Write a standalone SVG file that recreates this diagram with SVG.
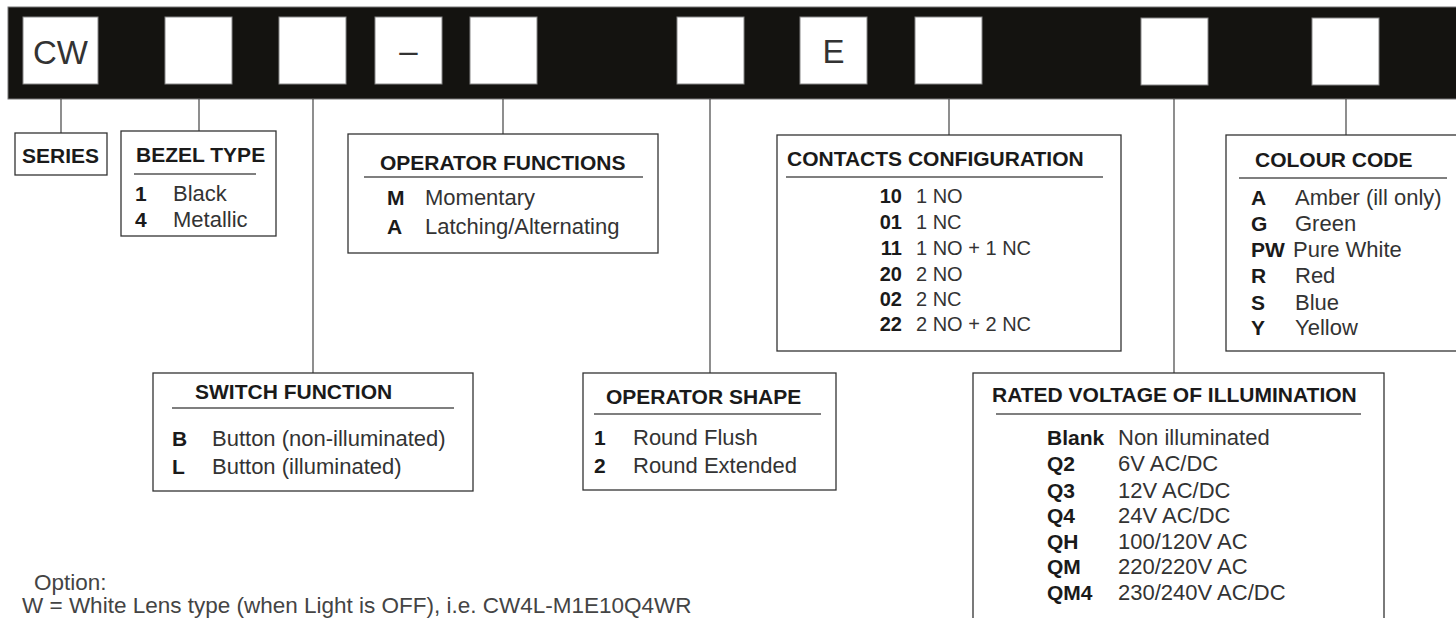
<svg xmlns="http://www.w3.org/2000/svg" width="1456" height="618" viewBox="0 0 1456 618">
<style>
.box{fill:#fff;stroke:#333;stroke-width:1.3}
.slot{fill:#fff;stroke:#888;stroke-width:1}
.conn{stroke:#444;stroke-width:1.2;fill:none}
.rule{stroke:#555;stroke-width:1.3}
.t{font-family:"Liberation Sans",Arial,sans-serif;font-weight:bold;font-size:21px;fill:#1a1a1a}
.c{font-family:"Liberation Sans",Arial,sans-serif;font-weight:bold;font-size:21px;fill:#1a1a1a}
.d{font-family:"Liberation Sans",Arial,sans-serif;font-size:22px;fill:#333}
.cs{font-family:"Liberation Sans",Arial,sans-serif;font-weight:bold;font-size:20px;fill:#1a1a1a}
.ds{font-family:"Liberation Sans",Arial,sans-serif;font-size:20px;fill:#333}
.big{font-family:"Liberation Sans",Arial,sans-serif;font-size:33px;fill:#333}
.note{font-family:"Liberation Sans",Arial,sans-serif;font-size:22.5px;fill:#444}
</style>
<rect x="0" y="0" width="1456" height="618" fill="#fff"/>
<g id="code-bar">
<rect x="8" y="7" width="1450" height="92" fill="#141310" stroke="#777" stroke-width="1"/>
<rect class="slot" x="23" y="17" width="75" height="67"/>
<rect class="slot" x="165" y="17" width="67" height="67"/>
<rect class="slot" x="279" y="17" width="67" height="67"/>
<rect class="slot" x="375" y="17" width="67" height="67"/>
<rect class="slot" x="470" y="17" width="67" height="67"/>
<rect class="slot" x="677" y="17" width="67" height="67"/>
<rect class="slot" x="800" y="17" width="67" height="67"/>
<rect class="slot" x="915" y="17" width="67" height="67"/>
<rect class="slot" x="1141" y="18" width="67" height="67"/>
<rect class="slot" x="1312" y="18" width="67" height="67"/>
<text class="big" x="60.5" y="64" text-anchor="middle">CW</text>
<text class="big" x="408.5" y="62" text-anchor="middle">–</text>
<text class="big" x="833.5" y="63" text-anchor="middle">E</text>
</g>
<g id="connectors">
<line class="conn" x1="61" y1="99" x2="61" y2="133"/>
<line class="conn" x1="199" y1="99" x2="199" y2="131"/>
<line class="conn" x1="313" y1="99" x2="313" y2="373"/>
<line class="conn" x1="503" y1="99" x2="503" y2="134"/>
<line class="conn" x1="710" y1="99" x2="710" y2="373"/>
<line class="conn" x1="949" y1="99" x2="949" y2="135"/>
<line class="conn" x1="1174" y1="99" x2="1174" y2="373"/>
<line class="conn" x1="1346" y1="99" x2="1346" y2="135"/>
</g>
<g id="series">
<rect class="box" x="15" y="133" width="92" height="42"/>
<text class="t" x="22" y="163">SERIES</text>
</g>
<g id="bezel-type">
<rect class="box" x="121" y="131" width="155" height="105"/>
<text class="t" x="136" y="162">BEZEL TYPE</text>
<line class="rule" x1="134" y1="174" x2="256" y2="174"/>
<text class="c" x="135" y="201">1</text><text class="d" x="173" y="201">Black</text>
<text class="c" x="135" y="227">4</text><text class="d" x="173" y="227">Metallic</text>
</g>
<g id="operator-functions">
<rect class="box" x="348" y="134" width="310" height="119"/>
<text class="t" x="380" y="170">OPERATOR FUNCTIONS</text>
<line class="rule" x1="364" y1="177" x2="643" y2="177"/>
<text class="c" x="387" y="205">M</text><text class="d" x="425" y="205">Momentary</text>
<text class="c" x="387" y="234">A</text><text class="d" x="425" y="234">Latching/Alternating</text>
</g>
<g id="contacts-configuration">
<rect class="box" x="777" y="135" width="344" height="216"/>
<text class="t" x="787" y="166">CONTACTS CONFIGURATION</text>
<line class="rule" x1="786" y1="177" x2="1103" y2="177"/>
<text class="cs" x="902" y="203" text-anchor="end">10</text><text class="ds" x="916" y="203">1 NO</text>
<text class="cs" x="902" y="229" text-anchor="end">01</text><text class="ds" x="916" y="229">1 NC</text>
<text class="cs" x="902" y="255" text-anchor="end">11</text><text class="ds" x="916" y="255">1 NO + 1 NC</text>
<text class="cs" x="902" y="281" text-anchor="end">20</text><text class="ds" x="916" y="281">2 NO</text>
<text class="cs" x="902" y="306" text-anchor="end">02</text><text class="ds" x="916" y="306">2 NC</text>
<text class="cs" x="902" y="331" text-anchor="end">22</text><text class="ds" x="916" y="331">2 NO + 2 NC</text>
</g>
<g id="colour-code">
<rect class="box" x="1226" y="135" width="244" height="216"/>
<text class="t" x="1255" y="167">COLOUR CODE</text>
<line class="rule" x1="1239" y1="178" x2="1447" y2="178"/>
<text class="c" x="1251" y="205">A</text><text class="d" x="1295" y="205">Amber (ill only)</text>
<text class="c" x="1251" y="231">G</text><text class="d" x="1295" y="231">Green</text>
<text class="c" x="1251" y="257">PW</text><text class="d" x="1293" y="257">Pure White</text>
<text class="c" x="1251" y="283">R</text><text class="d" x="1295" y="283">Red</text>
<text class="c" x="1251" y="310">S</text><text class="d" x="1295" y="310">Blue</text>
<text class="c" x="1251" y="335">Y</text><text class="d" x="1295" y="335">Yellow</text>
</g>
<g id="switch-function">
<rect class="box" x="153" y="373" width="320" height="118"/>
<text class="t" x="195" y="399">SWITCH FUNCTION</text>
<line class="rule" x1="172" y1="408" x2="454" y2="408"/>
<text class="c" x="172" y="446">B</text><text class="d" x="212" y="446">Button (non-illuminated)</text>
<text class="c" x="172" y="474">L</text><text class="d" x="212" y="474">Button (illuminated)</text>
</g>
<g id="operator-shape">
<rect class="box" x="583" y="373" width="253" height="117"/>
<text class="t" x="606" y="404">OPERATOR SHAPE</text>
<line class="rule" x1="594" y1="414" x2="821" y2="414"/>
<text class="c" x="594" y="445">1</text><text class="d" x="633" y="445">Round Flush</text>
<text class="c" x="594" y="473">2</text><text class="d" x="633" y="473">Round Extended</text>
</g>
<g id="rated-voltage">
<rect class="box" x="973" y="373" width="411" height="260"/>
<text class="t" x="992" y="402">RATED VOLTAGE OF ILLUMINATION</text>
<line class="rule" x1="996" y1="414" x2="1361" y2="414"/>
<text class="c" x="1047" y="445">Blank</text><text class="d" x="1118" y="445">Non illuminated</text>
<text class="c" x="1047" y="471">Q2</text><text class="d" x="1118" y="471">6V AC/DC</text>
<text class="c" x="1047" y="498">Q3</text><text class="d" x="1118" y="498">12V AC/DC</text>
<text class="c" x="1047" y="523">Q4</text><text class="d" x="1118" y="523">24V AC/DC</text>
<text class="c" x="1047" y="549">QH</text><text class="d" x="1118" y="549">100/120V AC</text>
<text class="c" x="1047" y="574">QM</text><text class="d" x="1118" y="574">220/220V AC</text>
<text class="c" x="1047" y="600">QM4</text><text class="d" x="1118" y="600">230/240V AC/DC</text>
</g>
<g id="option-note">
<text class="note" x="34" y="590">Option:</text>
<text class="note" x="22" y="613">W = White Lens type (when Light is OFF),  i.e. CW4L-M1E10Q4WR</text>
</g>
</svg>
